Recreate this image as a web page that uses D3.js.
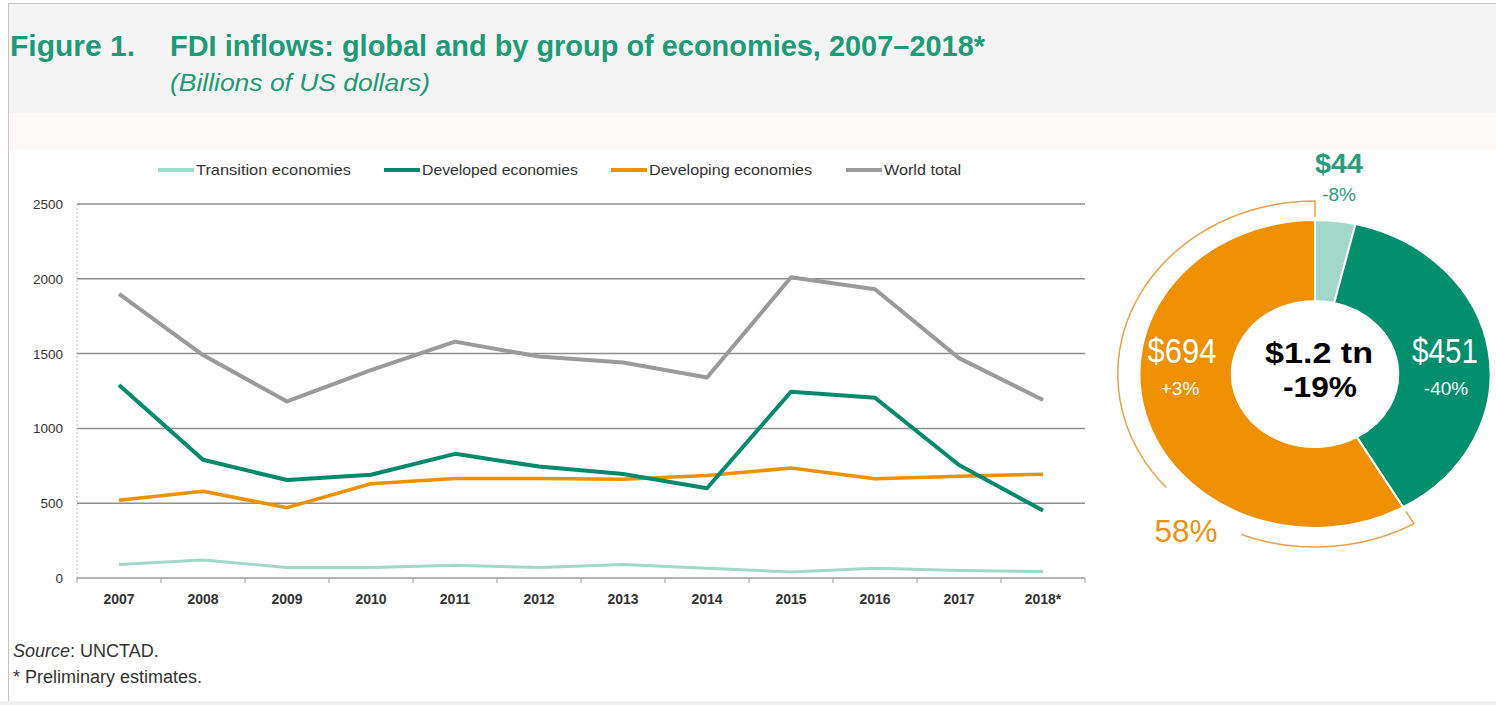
<!DOCTYPE html>
<html>
<head>
<meta charset="utf-8">
<script src="https://cdn.jsdelivr.net/npm/d3@7"></script>
<style>
  body { margin: 0; background: #fff; }
  svg { display: block; font-family: "Liberation Sans", Arial, sans-serif; }
</style>
</head>
<body>
<svg id="chart"></svg>
<script>
// ---- data (billions of US dollars) ----
const years = ["2007", "2008", "2009", "2010", "2011", "2012", "2013", "2014", "2015", "2016", "2017", "2018*"];
const transition = [90, 120, 70, 70, 85, 70, 90, 65, 40, 65, 50, 44];
const developed  = [1290, 790, 655, 690, 830, 745, 695, 600, 1245, 1205, 755, 451];
const developing = [520, 580, 470, 630, 665, 665, 660, 685, 735, 664, 680, 694];
const world      = [1900, 1490, 1180, 1390, 1580, 1480, 1440, 1340, 2010, 1930, 1470, 1190];
const seriesNames = ["Transition economies", "Developed economies", "Developing economies", "World total"];
const yTicks = [0, 500, 1000, 1500, 2000, 2500];

// 2018 breakdown shown in the donut
const donutGroups = ["Transition", "Developed", "Developing"];
const donutValues = [44, 451, 694];
const donutValueLabels = ["$44", "$451", "$694"];
const donutChangeLabels = ["-8%", "-40%", "+3%"];
const totalLabel = "$1.2 tn";
const totalChange = "-19%";
const developingShare = "58%";

const colors = {
  transition: "#a2d8ca",
  developed: "#00896a",
  developing: "#ee9000",
  world: "#9a9a9a",
  title: "#1d9a77"
};

const W = 1496, H = 705;
const svg = d3.select("#chart").attr("width", W).attr("height", H);

// frame + header band
svg.append("rect").attr("x", 8).attr("y", 3).attr("width", W - 8).attr("height", 110).attr("fill", "#f4f4f4");
svg.append("rect").attr("x", 8).attr("y", 113).attr("width", W - 8).attr("height", 37).attr("fill", "#fcf8f8");
svg.append("rect").attr("x", 0).attr("y", 701).attr("width", W).attr("height", 4).attr("fill", "#eeeeee");
svg.append("line").attr("x1", 8.5).attr("x2", 8.5).attr("y1", 3).attr("y2", 701).attr("stroke", "#c4c4c4");
svg.append("line").attr("x1", 8).attr("x2", W).attr("y1", 3.5).attr("y2", 3.5).attr("stroke", "#c8c8c8");

// titles
svg.append("text").attr("x", 10).attr("y", 56)
   .attr("font-size", 29).attr("font-weight", "bold").attr("fill", colors.title)
   .attr("textLength", 125).attr("lengthAdjust", "spacingAndGlyphs")
   .text("Figure 1.");
svg.append("text").attr("x", 170).attr("y", 56)
   .attr("font-size", 29).attr("font-weight", "bold").attr("fill", colors.title)
   .attr("textLength", 815).attr("lengthAdjust", "spacingAndGlyphs")
   .text("FDI inflows: global and by group of economies, 2007–2018*");
svg.append("text").attr("x", 170).attr("y", 91)
   .attr("font-size", 23).attr("font-style", "italic").attr("fill", colors.title)
   .attr("textLength", 260).attr("lengthAdjust", "spacingAndGlyphs")
   .text("(Billions of US dollars)");

// ---- line chart ----
const x = d3.scaleBand().domain(years).range([77, 1085]).padding(0);
const y = d3.scaleLinear().domain([0, 2500]).range([578, 204]);

// gridlines
svg.append("g")
   .selectAll("line")
   .data(yTicks.filter(d => d > 0))
   .enter()
   .append("line")
   .attr("x1", 77).attr("x2", 1085)
   .attr("y1", d => y(d)).attr("y2", d => y(d))
   .attr("stroke", "#8e8e8e").attr("stroke-width", 1.5);

// dashed y axis line
svg.append("line").attr("x1", 77).attr("x2", 77).attr("y1", y(2500)).attr("y2", y(0))
   .attr("stroke", "#bdbdbd").attr("stroke-dasharray", "2,2");

// y labels
svg.append("g")
   .selectAll("text")
   .data(yTicks)
   .enter()
   .append("text")
   .attr("x", 63).attr("y", d => y(d) + 5)
   .attr("text-anchor", "end").attr("font-size", 13.5).attr("fill", "#333")
   .text(d => d);

// x axis with ticks on band boundaries
const xAxis = svg.append("g").attr("transform", `translate(0,${y(0)})`);
xAxis.append("line").attr("x1", 77).attr("x2", 1085).attr("stroke", "#9c9c9c").attr("stroke-width", 1.5);
xAxis.selectAll(".tick")
     .data(years.map(d => x(d)).concat([x(years[years.length - 1]) + x.bandwidth()]))
     .enter()
     .append("line")
     .attr("x1", d => d).attr("x2", d => d)
     .attr("y1", 0).attr("y2", 5)
     .attr("stroke", "#9c9c9c");
xAxis.selectAll("text")
     .data(years)
     .enter()
     .append("text")
     .attr("x", d => x(d) + x.bandwidth() / 2).attr("y", 26)
     .attr("text-anchor", "middle").attr("font-size", 14).attr("font-weight", "bold").attr("fill", "#333")
     .text(d => d);

const line = d3.line()
               .x((d, i) => x(years[i]) + x.bandwidth() / 2)
               .y(d => y(d));

const series = [
  { values: transition, color: colors.transition, w: 3 },
  { values: developing, color: colors.developing, w: 3.5 },
  { values: world, color: colors.world, w: 4 },
  { values: developed, color: colors.developed, w: 4 }
];
svg.append("g")
   .selectAll("path")
   .data(series)
   .enter()
   .append("path")
   .attr("d", d => line(d.values))
   .attr("fill", "none")
   .attr("stroke", d => d.color)
   .attr("stroke-width", d => d.w)
   .attr("stroke-linejoin", "round");

// legend
const legendX = [158, 384, 611, 846];
const legendTextW = [155, 156, 163, 77];
const legendColors = [colors.transition, colors.developed, colors.developing, colors.world];
const legend = svg.append("g").attr("transform", "translate(0,170)");
const item = legend.selectAll("g")
                   .data(seriesNames)
                   .enter()
                   .append("g")
                   .attr("transform", (d, i) => `translate(${legendX[i]},0)`);
item.append("line").attr("x1", 0).attr("x2", 36)
    .attr("stroke", (d, i) => legendColors[i]).attr("stroke-width", 4);
item.append("text").attr("x", 38).attr("y", 5)
    .attr("font-size", 14.5).attr("fill", "#333")
    .attr("textLength", (d, i) => legendTextW[i]).attr("lengthAdjust", "spacingAndGlyphs")
    .text(d => d);

// ---- donut ----
const cx = 1315, cy = 374, sx = 1.14;
const rIn = 73, rOut = 154, rBracket = 173;
const pie = d3.pie().sort(null)(donutValues);
const arc = d3.arc().innerRadius(rIn).outerRadius(rOut);
const donutColors = [colors.transition, "#008e6c", colors.developing];

const dg = svg.append("g").attr("transform", `translate(${cx},${cy}) scale(${sx},1)`);

// bracket around the developing slice, broken where the share label sits
const dev = pie[2];
const gapStart = 202 * Math.PI / 180, gapEnd = 229 * Math.PI / 180;
const radial = d3.lineRadial().angle(d => d[0]).radius(d => d[1]);
const arcPts = (a0, a1) => d3.range(0, 41).map(k => [a0 + (a1 - a0) * k / 40, rBracket]);
const partA = [[dev.startAngle, rBracket - 14]].concat(arcPts(dev.startAngle, gapStart));
const partB = arcPts(gapEnd, dev.endAngle).concat([[dev.endAngle, rBracket - 16]]);
[partA, partB].forEach(p => {
  dg.append("path").attr("d", radial(p))
    .attr("fill", "none").attr("stroke", "#e9a04a").attr("stroke-width", 1.5)
    .attr("vector-effect", "non-scaling-stroke");
});

dg.selectAll(".slice")
  .data(pie)
  .enter()
  .append("path")
  .attr("d", arc)
  .attr("fill", (d, i) => donutColors[i])
  .attr("stroke", "#fff").attr("stroke-width", 2)
  .attr("vector-effect", "non-scaling-stroke");

// donut labels
const lab = svg.append("g").attr("text-anchor", "middle");
// transition (above the donut)
lab.append("text").attr("x", cx + 24).attr("y", 173)
   .attr("font-size", 28).attr("font-weight", "bold").attr("fill", "#2a9c7c")
   .attr("textLength", 48).attr("lengthAdjust", "spacingAndGlyphs")
   .text(donutValueLabels[0]);
lab.append("text").attr("x", cx + 24).attr("y", 201)
   .attr("font-size", 19).attr("fill", "#2a9c7c")
   .text(donutChangeLabels[0]);
// developed
lab.append("text").attr("x", cx + 130).attr("y", 363)
   .attr("font-size", 35).attr("fill", "#fff")
   .attr("textLength", 66).attr("lengthAdjust", "spacingAndGlyphs")
   .text(donutValueLabels[1]);
lab.append("text").attr("x", cx + 131).attr("y", 395)
   .attr("font-size", 19).attr("fill", "#fff")
   .text(donutChangeLabels[1]);
// developing
lab.append("text").attr("x", cx - 133).attr("y", 363)
   .attr("font-size", 35).attr("fill", "#fff")
   .attr("textLength", 69).attr("lengthAdjust", "spacingAndGlyphs")
   .text(donutValueLabels[2]);
lab.append("text").attr("x", cx - 135).attr("y", 395)
   .attr("font-size", 19).attr("fill", "#fff")
   .text(donutChangeLabels[2]);
// total in the hole
lab.append("text").attr("x", cx + 4).attr("y", 363)
   .attr("font-size", 29).attr("font-weight", "bold").attr("fill", "#000")
   .attr("textLength", 108).attr("lengthAdjust", "spacingAndGlyphs")
   .text(totalLabel);
lab.append("text").attr("x", cx + 5).attr("y", 397)
   .attr("font-size", 29).attr("font-weight", "bold").attr("fill", "#000")
   .attr("textLength", 74).attr("lengthAdjust", "spacingAndGlyphs")
   .text(totalChange);
// share of developing
lab.append("text").attr("x", cx - 129).attr("y", 542)
   .attr("font-size", 31).attr("fill", "#ea9215")
   .attr("textLength", 63).attr("lengthAdjust", "spacingAndGlyphs")
   .text(developingShare);

// ---- footer ----
const src = svg.append("text").attr("x", 13).attr("y", 657).attr("font-size", 18).attr("fill", "#333");
src.append("tspan").attr("font-style", "italic").text("Source");
src.append("tspan").text(": UNCTAD.");
svg.append("text").attr("x", 13).attr("y", 683).attr("font-size", 18).attr("fill", "#333")
   .text("* Preliminary estimates.");
</script>
</body>
</html>
